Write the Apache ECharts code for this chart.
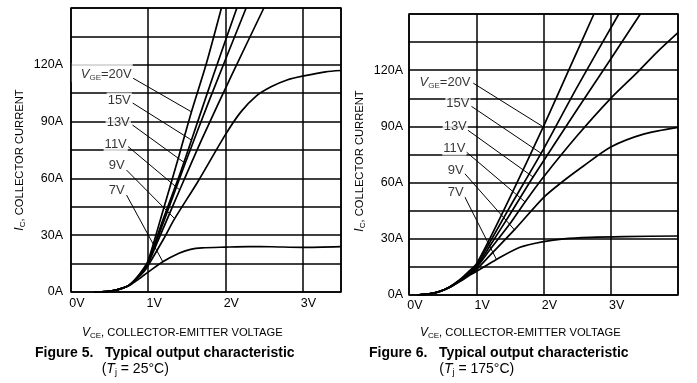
<!DOCTYPE html>
<html>
<head>
<meta charset="utf-8">
<script src="https://cdn.jsdelivr.net/npm/echarts@6/dist/echarts.min.js"></script>
<style>html,body{margin:0;padding:0;background:#fff;}#c{width:697px;height:383px;}</style>
</head>
<body>
<div id="c"></div>
<script>
// ---- tick labels ----
const xTickLabelsL = ['0V', '1V', '2V', '3V'];
const xTickLabelsR = ['0V', '1V', '2V', '3V'];
const yTickLabels = ['0A', '30A', '60A', '90A', '120A'];
const vgeNames = ['20V', '15V', '13V', '11V', '9V', '7V'];

// ---- Figure 5 (Tj = 25°C), [VCE (V), IC (A)] ----
const L20 = [[0.3,0],[0.45,0.2],[0.55,0.8],[0.65,1.8],[0.75,3.5],[0.85,7.5],[0.95,13],[1.0,16.5],[1.2,44],[1.4,72],[1.56,95],[1.75,120],[1.95,150]];
const L15 = [[0.3,0],[0.45,0.2],[0.55,0.8],[0.65,1.8],[0.75,3.5],[0.85,7.3],[0.95,12.5],[1.0,16],[1.2,39],[1.4,61],[1.56,80],[1.85,115],[2.15,150]];
const L13 = [[0.3,0],[0.45,0.2],[0.55,0.8],[0.65,1.8],[0.75,3.5],[0.85,7.1],[0.95,12],[1.0,15.5],[1.2,37],[1.48,68],[1.8,102],[2.27,150]];
const L11 = [[0.3,0],[0.45,0.2],[0.55,0.8],[0.65,1.8],[0.75,3.5],[0.85,7],[0.95,11.5],[1.0,15],[1.2,34],[1.41,54],[1.7,81],[2.1,116],[2.5,150]];
const L9  = [[0.3,0],[0.45,0.2],[0.55,0.8],[0.65,1.8],[0.75,3.4],[0.85,6.8],[0.95,11],[1.0,14],[1.2,28],[1.34,38.5],[1.64,58],[2.0,83],[2.2,95],[2.4,103.5],[2.6,108.5],[2.8,112],[3.0,114],[3.3,116.3],[3.5,117]];
const L7  = [[0.3,0],[0.45,0.2],[0.55,0.8],[0.65,1.8],[0.75,3.3],[0.85,6],[0.95,9],[1.0,10.5],[1.19,16],[1.4,20.5],[1.55,22.5],[1.7,23.3],[2.0,23.7],[2.3,24],[2.6,23.9],[3.0,23.6],[3.5,24]];

// ---- Figure 6 (Tj = 175°C) ----
const R20 = [[0.12,0],[0.3,0.6],[0.45,1.8],[0.6,4.3],[0.75,8],[0.9,13],[1.0,16.5],[1.2,30],[1.5,52],[2.0,90],[2.4,122],[2.75,150]];
const R15 = [[0.12,0],[0.3,0.6],[0.45,1.8],[0.6,4.2],[0.75,7.8],[0.9,12.5],[1.0,16],[1.2,28],[1.5,47],[1.97,76],[2.5,111],[3.12,150]];
const R13 = [[0.12,0],[0.3,0.6],[0.45,1.8],[0.6,4.1],[0.75,7.6],[0.9,12],[1.0,15],[1.2,26],[1.5,43],[1.845,63],[2.5,99],[3.0,126],[3.44,150]];
const R11 = [[0.12,0],[0.3,0.6],[0.45,1.8],[0.6,4],[0.75,7.5],[0.9,11.5],[1.0,14.5],[1.2,24],[1.5,38],[1.726,49.7],[2.0,63],[2.5,85],[3.0,105],[3.4,119],[3.7,130],[4.0,140]];
const R9  = [[0.12,0],[0.3,0.6],[0.45,1.8],[0.6,4],[0.75,7.3],[0.9,11],[1.0,13.5],[1.2,21],[1.573,35],[2.0,52],[2.3,61],[2.6,69],[3.0,79],[3.5,86],[4.0,89.5]];
const R7  = [[0.12,0],[0.3,0.6],[0.45,1.8],[0.6,4],[0.75,7],[0.9,10.5],[1.0,12.5],[1.3,19],[1.65,25.5],[2.0,28.5],[2.3,30],[2.7,30.8],[3.2,31.2],[4.0,31.5]];

// ---- annotation anchors (data units) ----
const leftLabelPos   = [[0.80,115.8],[0.788,101.4],[0.775,89.4],[0.736,78.2],[0.71,66.7],[0.71,53.9]];
const leftLeadStart  = [[0.805,112.9],[0.80,99.8],[0.797,88.2],[0.74,76.8],[0.72,64.4],[0.72,51.2]];
const leftLeadEnd    = [[1.56,95.2],[1.56,80.3],[1.48,68],[1.41,53.9],[1.34,38.9],[1.19,16]];
const rightLabelPos  = [[0.93,114.5],[0.914,102.4],[0.874,90],[0.854,78.5],[0.829,66.6],[0.829,54.5]];
const rightLeadStart = [[0.955,113.1],[0.929,100.7],[0.878,87.9],[0.854,76.3],[0.829,64.8],[0.829,52.4]];
const rightLeadEnd   = [[1.985,90],[1.97,75.5],[1.845,63],[1.726,49.7],[1.573,34.6],[1.30,19]];

const FONT = '"Liberation Sans", Arial, sans-serif';
const chart = echarts.init(document.getElementById('c'), null, {renderer: 'canvas'});

function xAxisCfg(gi, max, ticks, margin) {
  return {
    gridIndex: gi, type: 'value', min: 0, max: max, interval: 1,
    axisLine: {show: false}, axisTick: {show: false},
    splitLine: {show: true, lineStyle: {color: '#000', width: 1.5}},
    axisLabel: {
      color: '#000', fontSize: 12.5, fontFamily: FONT, margin: margin, padding: [0, 0, 0, 12],
      showMaxLabel: false,
      formatter: v => (Number.isInteger(v) && ticks[v] !== undefined) ? ticks[v] : ''
    }
  };
}
function yAxisCfg(gi, margin) {
  return {
    gridIndex: gi, type: 'value', min: 0, max: 150, interval: 15,
    axisLine: {show: false}, axisTick: {show: false},
    splitLine: {show: true, lineStyle: {color: '#000', width: 1.5}},
    axisLabel: {
      color: '#000', fontSize: 12.5, fontFamily: FONT, margin: margin,
      formatter: v => (v % 30 === 0 && v < 150) ? yTickLabels[v / 30] : ''
    }
  };
}

const series = [];
function addCurves(list, gi) {
  list.forEach(d => series.push({
    type: 'line', xAxisIndex: gi, yAxisIndex: gi, data: d, showSymbol: false,
    smooth: 0.25, silent: true, clip: true,
    lineStyle: {color: '#000', width: 1.7}, z: 3
  }));
}
function addLabels(pos, st, en, gi) {
  for (let i = 0; i < pos.length; i++) {
    series.push({
      type: 'line', xAxisIndex: gi, yAxisIndex: gi, data: [st[i], en[i]], showSymbol: false,
      silent: true, lineStyle: {color: '#000', width: 1}, z: 4
    });
    const first = i === 0;
    series.push({
      type: 'scatter', xAxisIndex: gi, yAxisIndex: gi, symbolSize: 0, silent: true, z: 5,
      data: [{value: pos[i], name: vgeNames[i]}],
      label: {
        show: true, position: 'left', distance: 0,
        backgroundColor: '#fff', padding: first ? [4, 1, 0, 9] : [0, 1, 0, 1],
        color: '#000', fontFamily: FONT, fontSize: 13,
        formatter: first ? '{i|V}{s|GE}{n|=' + vgeNames[i] + '}' : '{n|' + vgeNames[i] + '}',
        rich: {
          i: {fontStyle: 'italic', fontSize: 13, fontFamily: FONT, color: '#000', lineHeight: 15},
          s: {fontSize: 8, fontFamily: FONT, color: '#000', verticalAlign: 'bottom', lineHeight: 15},
          n: {fontSize: 13, fontFamily: FONT, color: '#000', lineHeight: 15}
        }
      }
    });
  }
}
addCurves([L20, L15, L13, L11, L9, L7], 0);
addCurves([R20, R15, R13, R11, R9, R7], 1);
addLabels(leftLabelPos, leftLeadStart, leftLeadEnd, 0);
addLabels(rightLabelPos, rightLeadStart, rightLeadEnd, 1);

const richAxis = {
  i: {fontStyle: 'italic', fontSize: 12, fontFamily: FONT, fill: '#000', lineHeight: 14},
  s: {fontSize: 8, fontFamily: FONT, fill: '#000', verticalAlign: 'bottom', lineHeight: 14},
  n: {fontSize: 11.2, fontFamily: FONT, fill: '#000', lineHeight: 14}
};
const richTj = {
  i: {fontStyle: 'italic', fontSize: 14, fontFamily: FONT, fill: '#000', lineHeight: 16},
  s: {fontSize: 9, fontFamily: FONT, fill: '#000', verticalAlign: 'bottom', lineHeight: 16},
  n: {fontSize: 14, fontFamily: FONT, fill: '#000', lineHeight: 16}
};
function txt(x, y, text, rich, extra) {
  return Object.assign({
    type: 'text', x: x, y: y, silent: true,
    style: {text: text, rich: rich, fill: '#000', font: '12px ' + FONT, align: 'left', verticalAlign: 'middle'}
  }, extra || {});
}
const yName = '{i|I}{s|C}{n|, COLLECTOR CURRENT}';
const graphics = [
  txt(20, 160, yName, richAxis, {rotation: Math.PI / 2, style: {text: yName, rich: richAxis, fill: '#000', align: 'center', verticalAlign: 'middle'}}),
  txt(360, 161, yName, richAxis, {rotation: Math.PI / 2, style: {text: yName, rich: richAxis, fill: '#000', align: 'center', verticalAlign: 'middle'}}),
  txt(82, 333, '{i|V}{s|CE}{n|, COLLECTOR-EMITTER VOLTAGE}', richAxis),
  txt(420, 333, '{i|V}{s|CE}{n|, COLLECTOR-EMITTER VOLTAGE}', richAxis),
  {type: 'text', x: 35, y: 353, silent: true, style: {text: 'Figure 5.   Typical output characteristic', fill: '#000', font: 'bold 14px ' + FONT, verticalAlign: 'middle'}},
  {type: 'text', x: 369, y: 353, silent: true, style: {text: 'Figure 6.   Typical output characteristic', fill: '#000', font: 'bold 14px ' + FONT, verticalAlign: 'middle'}},
  txt(101.7, 369, '{n|(}{i|T}{s|j}{n| = 25°C)}', richTj),
  txt(439.3, 369, '{n|(}{i|T}{s|j}{n| = 175°C)}', richTj)
];

chart.setOption({
  animation: false,
  backgroundColor: '#fff',
  grid: [
    {left: 71, top: 8, width: 270, height: 284, show: true, borderColor: '#000', borderWidth: 1.5, backgroundColor: 'transparent'},
    {left: 409, top: 14, width: 269, height: 281, show: true, borderColor: '#000', borderWidth: 1.5, backgroundColor: 'transparent'}
  ],
  xAxis: [xAxisCfg(0, 3.5, xTickLabelsL, 5), xAxisCfg(1, 4, xTickLabelsR, 4)],
  yAxis: [yAxisCfg(0, 8), yAxisCfg(1, 6)],
  series: series,
  graphic: graphics
});
</script>
</body>
</html>
